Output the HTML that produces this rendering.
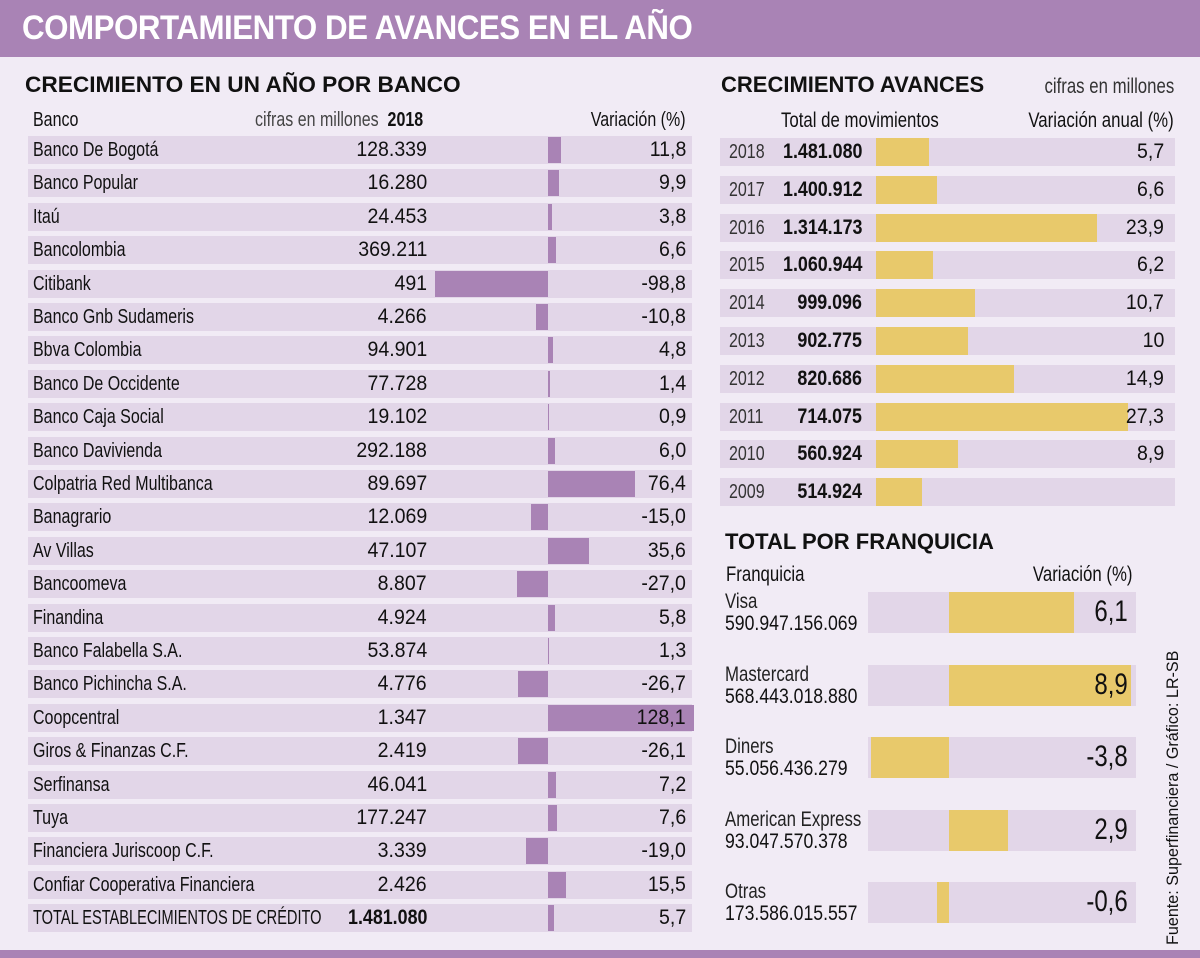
<!DOCTYPE html>
<html><head><meta charset="utf-8">
<style>
body{margin:0;}
#root{position:relative;width:1200px;height:958px;background:#f1ebf5;overflow:hidden;font-family:"Liberation Sans",sans-serif;color:#111;}
.t{position:absolute;white-space:nowrap;}
.hb{font-family:"Liberation Sans",sans-serif;font-weight:bold;}
.nl{transform:scaleX(0.8);transform-origin:0 0;}
.nr{transform:scaleX(0.8);transform-origin:100% 0;}
.nn{transform:scaleX(0.93);transform-origin:100% 0;}
.ny{transform:scaleX(0.85);transform-origin:100% 0;}
.nf{transform:scaleX(0.84);transform-origin:0 0;}
</style></head><body>
<div id="root">
<div class="t" style="left:0;top:0;width:1200px;height:57px;background:#a983b5;"></div>
<div class="t hb" style="left:22px;top:9px;font-size:34px;color:#fff;letter-spacing:-0.5px;transform:scaleX(0.92);transform-origin:0 0;">COMPORTAMIENTO DE AVANCES EN EL AÑO</div>
<div class="t" style="left:0;top:950px;width:1200px;height:8px;background:#a983b5;"></div>

<div class="t hb" style="left:25px;top:72px;font-size:22px;transform:scaleX(1.03);transform-origin:0 0;">CRECIMIENTO EN UN AÑO POR BANCO</div>
<div class="t nl" style="left:33px;top:109px;font-size:20px;">Banco</div>
<div class="t nr" style="right:777px;top:109px;font-size:20px;"><span style="color:#444">cifras en millones</span>&nbsp; <b>2018</b></div>
<div class="t nr" style="right:514px;top:109px;font-size:20px;">Variación (%)</div>

<div class="t hb" style="left:721px;top:72px;font-size:22px;">CRECIMIENTO AVANCES</div>
<div class="t nr" style="right:26px;top:75px;font-size:21px;color:#333;">cifras en millones</div>
<div class="t nl" style="left:781px;top:109px;font-size:21px;">Total de movimientos</div>
<div class="t nr" style="right:26px;top:109px;font-size:21px;">Variación anual (%)</div>

<div class="t hb" style="left:725px;top:529px;font-size:22px;">TOTAL POR FRANQUICIA</div>
<div class="t nl" style="left:726px;top:563px;font-size:21px;">Franquicia</div>
<div class="t nr" style="right:68px;top:563px;font-size:21px;">Variación (%)</div>

<div class="t" style="left:1163px;top:945px;transform:rotate(-90deg) scaleX(0.95);transform-origin:0 0;font-size:17px;width:340px;">Fuente: Superfinanciera / Gráfico: LR-SB</div>
</div>
<script>
const bankNames=["Banco De Bogotá","Banco Popular","Itaú","Bancolombia","Citibank","Banco Gnb Sudameris","Bbva Colombia","Banco De Occidente","Banco Caja Social","Banco Davivienda","Colpatria Red Multibanca","Banagrario","Av Villas","Bancoomeva","Finandina","Banco Falabella S.A.","Banco Pichincha S.A.","Coopcentral","Giros & Finanzas C.F.","Serfinansa","Tuya","Financiera Juriscoop C.F.","Confiar Cooperativa Financiera","TOTAL ESTABLECIMIENTOS DE CRÉDITO"];
const bankValues=["128.339","16.280","24.453","369.211","491","4.266","94.901","77.728","19.102","292.188","89.697","12.069","47.107","8.807","4.924","53.874","4.776","1.347","2.419","46.041","177.247","3.339","2.426","1.481.080"];
const bankVariation=[11.8,9.9,3.8,6.6,-98.8,-10.8,4.8,1.4,0.9,6.0,76.4,-15.0,35.6,-27.0,5.8,1.3,-26.7,128.1,-26.1,7.2,7.6,-19.0,15.5,5.7];
const years=["2018","2017","2016","2015","2014","2013","2012","2011","2010","2009"];
const yearTotals=["1.481.080","1.400.912","1.314.173","1.060.944","999.096","902.775","820.686","714.075","560.924","514.924"];
const yearVariation=[5.7,6.6,23.9,6.2,10.7,10,14.9,27.3,8.9,5.0];
const yearLabels=["5,7","6,6","23,9","6,2","10,7","10","14,9","27,3","8,9",""];
const franchises=["Visa","Mastercard","Diners","American Express","Otras"];
const franchiseTotals=["590.947.156.069","568.443.018.880","55.056.436.279","93.047.570.378","173.586.015.557"];
const franchiseVariation=[6.1,8.9,-3.8,2.9,-0.6];

const root=document.getElementById('root');
function box(l,t,w,h,bg){const d=document.createElement('div');d.className='t';d.style.cssText=`left:${l}px;top:${t}px;width:${w}px;height:${h}px;background:${bg};`;root.appendChild(d);return d;}
function txt(s,css,cls){const d=document.createElement('div');d.className='t '+cls;d.textContent=s;d.style.cssText=css;root.appendChild(d);return d;}
const fmt=v=>v.toFixed(1).replace('.',',');

const bx=v=>548+v*1.14;
bankNames.forEach((n,i)=>{
  const y=136+i*33.4;
  const last=i===bankNames.length-1;
  const r=box(28,y,664,28,'#e2d6e8');
  
  
  const v=bankVariation[i];
  const b=box(Math.min(bx(0),bx(v)),y+1,Math.max(1,Math.abs(bx(v)-bx(0))),26,'#a983b5');
  
  
  const a=txt(n,`left:33px;top:${y+3}px;font-size:20px;`+(last?'transform:scaleX(0.73);':''),'nl');
  
  
  const c=txt(bankValues[i],`right:773px;top:${y+2}px;font-size:21px;`+(last?'font-weight:bold;transform:scaleX(0.85);':''),'nn');
  
  
  const d=txt(fmt(v),`right:514px;top:${y+2}px;font-size:21px;`,'nn');
  
  
});

const yx=v=>876+v*9.23;
years.forEach((yr,i)=>{
  const y=138+i*37.8;
  const r=box(720,y,455,28,'#e2d6e8');
  
  
  const b=box(yx(0),y,yx(yearVariation[i])-yx(0),28,'#e8c96b');
  
  
  const a=txt(yr,`left:729px;top:${y+3}px;font-size:20px;color:#333;`,'nl');
  
  
  const c=txt(yearTotals[i],`right:338px;top:${y+2}px;font-size:21px;font-weight:bold;`,'ny');
  
  
  const d=txt(yearLabels[i],`right:36px;top:${y+2}px;font-size:21px;`,'nn');
  
  
});

const fx=v=>949+v*20.5;
franchises.forEach((f,i)=>{
  const y=592+i*72.5;
  const r=box(868,y,268,41,'#e2d6e8');
  
  
  const v=franchiseVariation[i];
  const b=box(Math.min(fx(0),fx(v)),y,Math.abs(fx(v)-fx(0)),41,'#e8c96b');
  
  
  const a=txt(f,`left:725px;top:${y-2}px;font-size:21px;color:#222;`,'nl');
  
  
  const c=txt(franchiseTotals[i],`left:725px;top:${y+20}px;font-size:21px;`,'nf');
  
  
  const d=txt(fmt(v),`right:72px;top:${y+3}px;font-size:30px;`,'nr');
  
  
});
</script>
</body></html>
